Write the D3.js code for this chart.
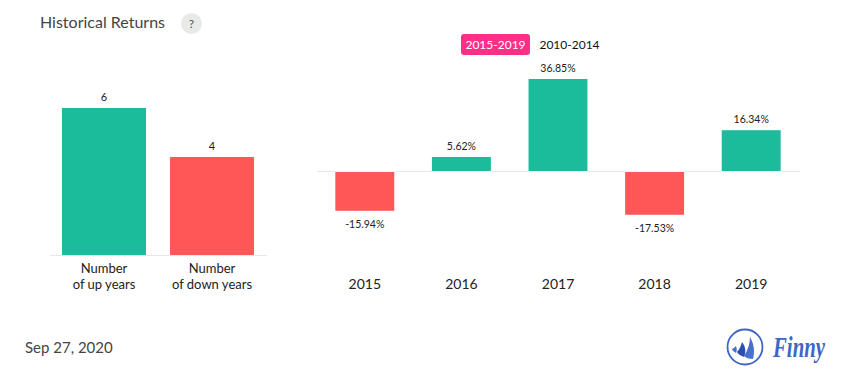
<!DOCTYPE html>
<html>
<head>
<meta charset="utf-8">
<script src="https://cdn.jsdelivr.net/npm/d3@7"></script>
<style>
  html, body { margin: 0; padding: 0; background: #fff; }
  text { font-family: Lato, sans-serif; }
</style>
</head>
<body>
<div id="chart"></div>
<script>
const countLabels = [["Number", "of up years"], ["Number", "of down years"]];
const countValues = [6, 4];
const years = ["2015", "2016", "2017", "2018", "2019"];
const returns = [-15.94, 5.62, 36.85, -17.53, 16.34];

const GREEN = "#1abc9c", RED = "#ff5757", AXIS = "#e8e8e8", INK = "#222";

const svg = d3.select("#chart").append("svg")
  .attr("width", 855)
  .attr("height", 382)
  .style("display", "block");

// header
svg.append("text").attr("x", 40).attr("y", 28)
  .attr("font-size", 16).attr("fill", "#444").text("Historical Returns");
svg.append("circle").attr("cx", 191.5).attr("cy", 23.5).attr("r", 10.5).attr("fill", "#e9e9e9");
svg.append("text").attr("x", 191.5).attr("y", 28).attr("text-anchor", "middle")
  .attr("font-size", 12).attr("fill", "#555").text("?");

// left chart: number of up / down years
const xCount = d3.scaleBand().domain(d3.range(countValues.length))
  .range([50, 266]).paddingInner(0.222).paddingOuter(0.111);
const yCount = d3.scaleLinear().domain([0, 6]).range([255, 108]);

const left = svg.append("g");
left.append("line")
  .attr("x1", 50).attr("x2", 267)
  .attr("y1", yCount(0) + 0.5).attr("y2", yCount(0) + 0.5)
  .attr("stroke", AXIS);
left.selectAll("rect").data(countValues).join("rect")
  .attr("x", (d, i) => xCount(i))
  .attr("y", d => yCount(d))
  .attr("width", xCount.bandwidth())
  .attr("height", d => yCount(0) - yCount(d))
  .attr("fill", (d, i) => i == 0 ? GREEN : RED);
left.selectAll(".value").data(countValues).join("text")
  .attr("class", "value")
  .attr("x", (d, i) => xCount(i) + xCount.bandwidth() / 2)
  .attr("y", d => yCount(d) - 7)
  .attr("text-anchor", "middle")
  .attr("font-size", 11).attr("fill", INK)
  .text(d => d);
countLabels.forEach((lines, i) => {
  lines.forEach((line, j) => {
    left.append("text")
      .attr("x", xCount(i) + xCount.bandwidth() / 2)
      .attr("y", 273 + j * 16)
      .attr("text-anchor", "middle")
      .attr("font-size", 13).attr("fill", INK)
      .text(line);
  });
});

// period switch
svg.append("rect").attr("x", 461).attr("y", 34).attr("width", 69).attr("height", 21)
  .attr("rx", 3).attr("fill", "#fe2f86");
svg.append("text").attr("x", 495.5).attr("y", 49).attr("text-anchor", "middle")
  .attr("font-size", 12).attr("fill", "#fff").text("2015-2019");
svg.append("text").attr("x", 569.5).attr("y", 49).attr("text-anchor", "middle")
  .attr("font-size", 12).attr("fill", "#111").text("2010-2014");

// right chart: yearly returns
const xYear = d3.scaleBand().domain(years)
  .range([316.5, 799.5]).paddingInner(0.39).paddingOuter(0.195);
const yReturn = d3.scaleLinear().domain([0, 36.85]).range([171, 79]);

const right = svg.append("g");
right.append("line")
  .attr("x1", 317).attr("x2", 800)
  .attr("y1", yReturn(0) + 0.5).attr("y2", yReturn(0) + 0.5)
  .attr("stroke", AXIS);
// white outline breaks the axis line either side of each bar
right.selectAll("rect").data(returns).join("rect")
  .attr("x", (d, i) => xYear(years[i]))
  .attr("y", d => d >= 0 ? yReturn(d) : yReturn(0) + 1)
  .attr("width", xYear.bandwidth())
  .attr("height", d => Math.abs(yReturn(d) - yReturn(0)) - (d < 0 ? 1 : 0))
  .attr("fill", d => d >= 0 ? GREEN : RED)
  .attr("stroke", "#fff")
  .attr("stroke-width", 1)
  .attr("paint-order", "stroke");
right.selectAll(".value").data(returns).join("text")
  .attr("class", "value")
  .attr("x", (d, i) => xYear(years[i]) + xYear.bandwidth() / 2)
  .attr("y", d => d >= 0 ? yReturn(d) - 7 : yReturn(d) + 17)
  .attr("text-anchor", "middle")
  .attr("font-size", 10.5).attr("fill", INK)
  .text(d => d.toFixed(2) + "%");

const yearAxis = svg.append("g")
  .attr("transform", "translate(0,289)")
  .call(d3.axisBottom(xYear).tickSize(0).tickPadding(0));
yearAxis.select(".domain").remove();
yearAxis.selectAll("text")
  .attr("dy", 0).attr("y", 0)
  .attr("font-size", 14).attr("fill", INK)
  .style("font-family", "Lato, sans-serif");

// footer
svg.append("text").attr("x", 25).attr("y", 353)
  .attr("font-size", 15).attr("fill", "#444").text("Sep 27, 2020");

// logo
const logo = svg.append("g").attr("transform", "translate(745,347)");
logo.append("circle").attr("r", 17.5).attr("fill", "none").attr("stroke", "#3f66c4").attr("stroke-width", 1.8);
logo.append("path").attr("d", "M5,-10 C9,-3 10,4 8,12 C4,12 1,11 -1,9 C3,3 5,-4 5,-10Z").attr("fill", "#4a70cc");
logo.append("path").attr("d", "M-3,-5 C1,0 1,5 -1,10 C-4,9 -7,7 -8,5 C-5,2 -4,-2 -3,-5Z").attr("fill", "#2a4fb0");
logo.append("path").attr("d", "M-9,-1 C-8,2 -8,4 -9,6 C-11,5 -13,3 -13,2 C-11,1 -10,0 -9,-1Z").attr("fill", "#4a70cc");
svg.append("text").attr("x", 773).attr("y", 357)
  .style("font-family", "'Liberation Serif', serif")
  .attr("font-style", "italic").attr("font-weight", "bold")
  .attr("font-size", 29).attr("fill", "#3f66c4")
  .attr("textLength", 52).attr("lengthAdjust", "spacingAndGlyphs")
  .text("Finny");
</script>
</body>
</html>
